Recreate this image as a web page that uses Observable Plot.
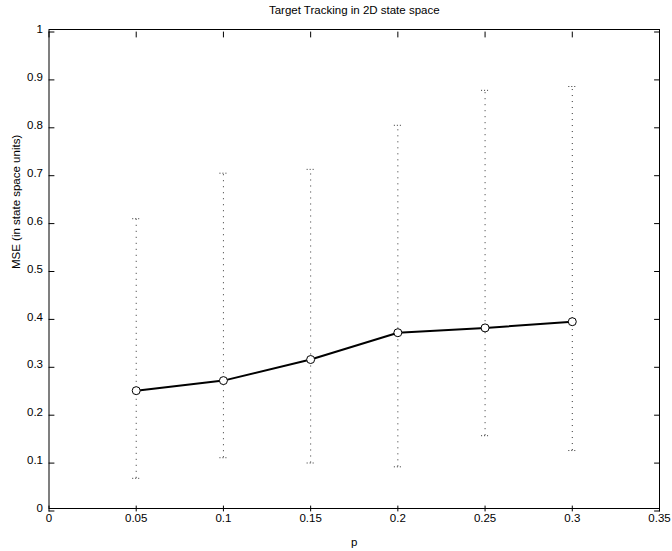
<!DOCTYPE html>
<html>
<head>
<meta charset="utf-8">
<script src="https://cdn.jsdelivr.net/npm/d3@7"></script>
<script src="https://cdn.jsdelivr.net/npm/@observablehq/plot@0.6"></script>
<style>
  html, body { margin: 0; padding: 0; background: #fff; }
  svg { display: block; }
</style>
</head>
<body>
<div id="chart"></div>
<script>
const pValues = [0.05, 0.1, 0.15, 0.2, 0.25, 0.3];
const mseMean = [0.246, 0.267, 0.311, 0.367, 0.377, 0.390];
const mseLow  = [0.063, 0.106, 0.095, 0.087, 0.152, 0.121];
const mseHigh = [0.605, 0.700, 0.708, 0.800, 0.873, 0.881];
const xTicks = [0, 0.05, 0.1, 0.15, 0.2, 0.25, 0.3, 0.35];
const yTicks = [0, 0.1, 0.2, 0.3, 0.4, 0.5, 0.6, 0.7, 0.8, 0.9, 1];
const titleText = "Target Tracking in 2D state space";
const xLabel = "p";
const yLabel = "MSE (in state space units)";

const capHalf = 0.002;
const data = pValues.map((p, i) => ({p, mean: mseMean[i], lo: mseLow[i], hi: mseHigh[i]}));
const caps = data.flatMap(d => [{p: d.p, y: d.lo}, {p: d.p, y: d.hi}]);
const fs = 11.5;

const tickShape = (dx, dy) => ({draw(context, l) { context.moveTo(0, 0); context.lineTo(dx * l, dy * l); }});
const tickOpts = {length: 5, stroke: "#000", strokeWidth: 1};

const chart = Plot.plot({
  width: 672,
  height: 551,
  marginLeft: 48.5,
  marginRight: 13,
  marginTop: 29,
  marginBottom: 43,
  style: {fontFamily: "'Liberation Sans', Arial, sans-serif", fontSize: fs + "px", color: "#000", background: "#fff"},
  x: {domain: [0, 0.35]},
  y: {domain: [0, 1]},
  marks: [
    Plot.frame({stroke: "#000", strokeWidth: 1}),
    Plot.axisX(xTicks, {anchor: "bottom", tickSize: 0, tickPadding: 5, tickFormat: d => String(d), label: null, fontSize: fs}),
    Plot.axisY(yTicks, {anchor: "left", tickSize: 0, tickPadding: 6, tickFormat: d => String(d), label: null, fontSize: fs}),
    Plot.vector(xTicks, {x: d => d, frameAnchor: "bottom", shape: tickShape(0, -1), ...tickOpts}),
    Plot.vector(xTicks, {x: d => d, frameAnchor: "top", shape: tickShape(0, 1), ...tickOpts}),
    Plot.vector(yTicks, {y: d => d, frameAnchor: "left", shape: tickShape(1, 0), ...tickOpts}),
    Plot.vector(yTicks, {y: d => d, frameAnchor: "right", shape: tickShape(-1, 0), ...tickOpts}),
    Plot.ruleX(data, {x: "p", y1: "lo", y2: "hi", stroke: "#333", strokeWidth: 1, strokeDasharray: "1,5"}),
    Plot.ruleY(caps, {y: "y", x1: d => d.p - capHalf, x2: d => d.p + capHalf, stroke: "#333", strokeWidth: 1, strokeDasharray: "1,2"}),
    Plot.line(data, {x: "p", y: "mean", stroke: "#000", strokeWidth: 2}),
    Plot.dot(data, {x: "p", y: "mean", r: 4, stroke: "#000", strokeWidth: 1, fill: "#fff"}),
    Plot.text([titleText], {frameAnchor: "top", dy: -19, lineAnchor: "middle", fontSize: fs}),
    Plot.text([xLabel], {frameAnchor: "bottom", dy: 34, lineAnchor: "middle", fontSize: fs}),
    Plot.text([yLabel], {frameAnchor: "left", dx: -33, rotate: -90, lineAnchor: "middle", fontSize: fs})
  ]
});
document.getElementById("chart").appendChild(chart);
</script>
</body>
</html>
